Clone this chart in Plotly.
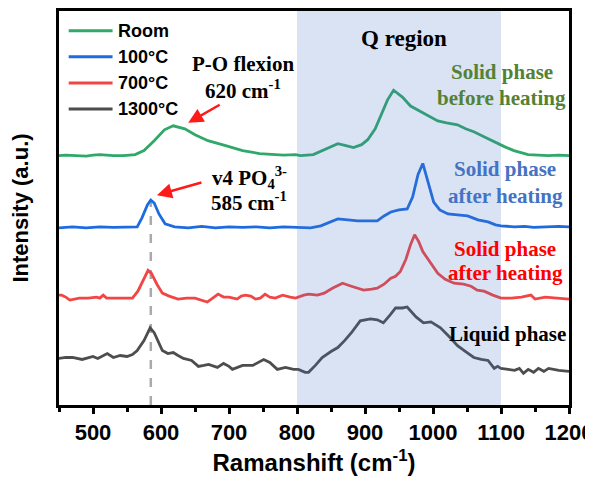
import plotly.graph_objects as go

# ---- data (Raman shift in cm-1, intensity in arbitrary units, stacked) ----
room_x = [450, 460, 475, 490, 500, 510, 530, 545, 562, 575, 590, 605, 618, 635, 650, 669, 695, 720, 745, 764, 780, 798,
          805, 824, 840, 860, 872, 883, 895, 904, 915, 923, 933, 942, 955, 967, 980, 992, 1007, 1020, 1036, 1048, 1060,
          1075, 1089, 1105, 1119, 1140, 1155, 1170, 1185, 1200]
room_y = [252, 252.5, 252, 251.5, 252.5, 253, 252, 252, 253, 257, 267, 278, 282, 279, 273, 267, 262, 257, 254, 253, 252.5, 253,
          252, 253, 258, 264, 262, 260, 263, 268, 279, 292, 308, 318, 311, 302, 297, 293, 287, 285, 283, 279, 276,
          271, 266, 261, 257, 253, 252.5, 252, 252.5, 252]

c100_x = [450, 470, 490, 510, 530, 550, 565, 572, 580, 585, 590, 597, 606, 620, 640, 660, 680, 700, 720, 740, 760, 780,
          800, 820, 835, 848, 860, 875, 889, 905, 918, 928, 938, 950, 962, 970, 978, 985, 992, 1001, 1010, 1022, 1036,
          1051, 1066, 1081, 1092, 1100, 1120, 1135, 1148, 1170, 1185, 1200]
c100_y = [179, 180, 179, 180, 179.5, 180, 180, 189, 202, 207, 204, 193, 183, 180, 179, 180.5, 179, 180, 179.5, 180, 179, 180,
          179.5, 179, 181, 185, 188, 187, 186, 186, 186, 191, 195, 197, 198, 210, 233, 244, 227, 205, 197, 193, 192,
          191, 187, 185, 182, 181, 180, 180.5, 179.5, 180, 180.5, 180]

c700_x = [450, 454, 460, 466, 480, 493, 505, 510, 515, 520, 540, 558, 566, 574, 581, 586, 594, 602, 612, 625, 638, 650,
          668, 676, 684, 692, 700, 712, 718, 724, 732, 739, 746, 753, 760, 768, 779, 790, 798, 810, 817, 830, 840, 852,
          867, 880, 898, 910, 918, 928, 938, 945, 952, 960, 967, 973, 979, 985, 992, 1000, 1007, 1018, 1031, 1045, 1056,
          1065, 1075, 1088, 1100, 1115, 1130, 1144, 1150, 1165, 1180, 1190, 1200]
c700_y = [111, 111, 109, 106, 108, 108, 109, 108, 111, 108, 108, 108, 115, 127, 136, 133, 122, 113, 110, 107, 108, 108,
          104, 108, 112, 109, 109, 107, 110, 111, 110, 107, 108, 112, 109, 108, 111, 109, 108, 111, 112, 111, 113, 118,
          123, 120, 116, 117, 118, 122, 128, 130, 135, 147, 162, 172, 165, 155, 148, 139, 133, 127, 123, 122, 120,
          116, 115, 111, 108, 108, 109, 111, 107, 109, 108, 108, 107]

c1300_x = [450, 460, 470, 484, 500, 507, 521, 530, 540, 550, 558, 565, 575, 584, 590, 602, 610, 618, 625, 633, 645, 655,
           663, 670, 683, 692, 700, 705, 720, 735, 751, 760, 771, 783, 795, 802, 812, 817, 827, 837, 850, 860, 870, 880,
           893, 908, 918, 927, 937, 945, 955, 962, 975, 986, 997, 1005, 1011, 1024, 1036, 1048, 1060, 1071, 1081, 1090,
           1095, 1100, 1112, 1120, 1127, 1133, 1140, 1148, 1155, 1163, 1170, 1185, 1200]
c1300_y = [47, 48, 48, 46, 49, 47, 52, 48, 50, 49, 51, 55, 65, 78, 73, 55, 52, 53, 50, 47, 45, 39,
           40, 41, 38, 42, 39, 36, 40, 40, 46, 43, 36, 38, 36, 36, 33, 33, 40, 48, 54, 58, 65, 73,
           85, 87, 86, 83, 91, 98, 98, 99, 89, 83, 84, 81, 78, 69, 60, 54, 48, 46, 45, 37,
           39, 37, 36, 35, 37, 32, 36, 33, 37, 34, 37, 35, 34]

series_names = ["Room", "100°C", "700°C", "1300°C"]
line_colors = ["#2fa869", "#1e6be0", "#f24545", "#4d4d4d"]

x_ticks = [500, 600, 700, 800, 900, 1000, 1100, 1200]
x_range = [450, 1200]
y_range = [0, 398]
q_region = [800, 1100]
v4_peak = 585
v4_top = 207
po_peak = 640
po_top = 285

SERIF = "Liberation Serif, Times New Roman, serif"
SANS = "Liberation Sans, Arial, sans-serif"

fig = go.Figure()
for xs, ys, name, col in zip([room_x, c100_x, c700_x, c1300_x],
                             [room_y, c100_y, c700_y, c1300_y],
                             series_names, line_colors):
    fig.add_trace(go.Scatter(x=xs, y=ys, mode="lines", name=name,
                             line=dict(color=col, width=2.8), showlegend=False))

shapes = []
# Q region shading (drawn above, semi-transparent)
shapes.append(dict(type="rect", xref="x", yref="paper", x0=q_region[0], x1=q_region[1], y0=0, y1=1,
                   fillcolor="rgb(68,114,196)", opacity=0.2, line=dict(width=0), layer="above"))
# dashed guide line at v4 peak
shapes.append(dict(type="line", xref="x", yref="y", x0=v4_peak, x1=v4_peak, y0=0, y1=v4_top,
                   line=dict(color="#aaaaaa", width=2.5, dash="dash"), layer="below"))

annotations = []
# manual legend
leg_y = [0.950, 0.884, 0.817, 0.751]
for name, col, yy in zip(series_names, line_colors, leg_y):
    shapes.append(dict(type="line", xref="paper", yref="paper", x0=0.019, x1=0.105, y0=yy, y1=yy,
                       line=dict(color=col, width=3)))
    annotations.append(dict(xref="paper", yref="paper", x=0.112, y=yy, text=name, showarrow=False,
                            xanchor="left", yanchor="middle",
                            font=dict(family=SANS, size=18, color="black", weight="bold")))


def txt(x, y, t, color="black", size=21):
    annotations.append(dict(x=x, y=y, xref="x", yref="y", text=t, showarrow=False,
                            xanchor="center", yanchor="middle",
                            font=dict(family=SERIF, size=size, color=color, weight="bold")))


txt(957, 370, "Q region", size=23)
txt(1101, 336, "Solid phase", "#548235")
txt(1101, 310, "before heating", "#548235")
txt(1106, 238, "Solid phase", "#4472c4")
txt(1106, 211, "after heating", "#4472c4")
txt(1106, 158, "Solid phase", "#ff0000")
txt(1106, 133, "after heating", "#ff0000")
txt(1109, 72, "Liquid phase")
txt(720, 344, "P-O flexion")
txt(720, 319, "620 cm<sup>-1</sup>")
txt(730, 230, "v4 PO<sub>4</sub><sup>3-</sup>")
txt(730, 206, "585 cm<sup>-1</sup>")

# arrows
annotations.append(dict(x=po_peak, y=po_top, xref="x", yref="y", ax=33, ay=-19, text="", showarrow=True,
                        arrowcolor="#ff1a1a", arrowwidth=2.5, arrowhead=2, arrowsize=1.2))
annotations.append(dict(x=v4_peak + 9, y=v4_top + 5, xref="x", yref="y", ax=46, ay=-13, text="", showarrow=True,
                        arrowcolor="#ff1a1a", arrowwidth=2.5, arrowhead=2, arrowsize=1.2))

fig.update_layout(
    width=585, height=479,
    margin=dict(l=51, r=24, t=0, b=82),
    paper_bgcolor="white", plot_bgcolor="white",
    shapes=shapes, annotations=annotations,
    showlegend=False,
)
fig.update_xaxes(range=x_range, tickvals=x_ticks, ticks="outside", ticklen=6, tickwidth=3, tickcolor="black",
                 ticklabeloverflow="allow",
                 minor=dict(dtick=50, tick0=450, ticks="outside", ticklen=4, tickwidth=3, tickcolor="black"),
                 showline=True, linewidth=3, linecolor="black", mirror=True, showgrid=False, zeroline=False,
                 tickfont=dict(family=SANS, size=22, color="black", weight="bold"),
                 title=dict(text="Ramanshift (cm<sup>-1</sup>)", standoff=10,
                            font=dict(family=SANS, size=24, color="black", weight="bold")))
fig.update_yaxes(range=y_range, showticklabels=False, ticks="", showline=True, linewidth=3, linecolor="black",
                 mirror=True, showgrid=False, zeroline=False,
                 title=dict(text="Intensity (a.u.)", standoff=22,
                            font=dict(family=SANS, size=22, color="black", weight="bold")))

fig.write_html("out.html")
